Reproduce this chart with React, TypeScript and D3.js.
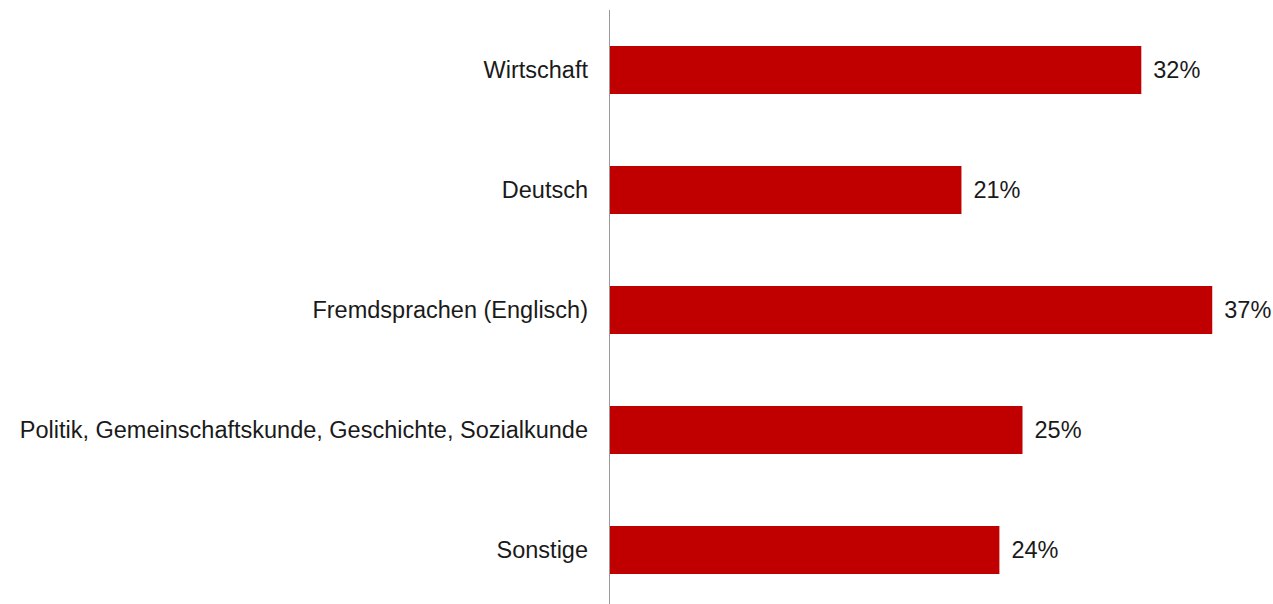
import * as d3 from "d3";
import { useEffect, useRef } from "react";

const categories = [
  "Wirtschaft",
  "Deutsch",
  "Fremdsprachen (Englisch)",
  "Politik, Gemeinschaftskunde, Geschichte, Sozialkunde",
  "Sonstige",
];
const values = [32.2, 21.3, 36.5, 25.0, 23.6];
const valueLabels = ["32%", "21%", "37%", "25%", "24%"];

const width = 1273;
const height = 604;
const margin = { top: 10, left: 610 };

const App = () => {
  const ref = useRef<SVGSVGElement | null>(null);

  useEffect(() => {
    if (!ref.current) return;
    const svg = d3.select(ref.current);
    svg.selectAll("*").remove();

    const x = d3.scaleLinear().domain([0, 40]).range([margin.left, margin.left + 660]);
    const y = d3
      .scaleBand()
      .domain(categories)
      .range([margin.top, margin.top + 600])
      .paddingInner(0.6)
      .paddingOuter(0.3);

    svg
      .append("g")
      .selectAll("rect")
      .data(categories)
      .enter()
      .append("rect")
      .attr("x", x(0))
      .attr("y", (d) => y(d)!)
      .attr("width", (d, i) => x(values[i]) - x(0))
      .attr("height", y.bandwidth())
      .style("fill", "#C00000");

    svg
      .append("line")
      .attr("x1", x(0) - 0.5)
      .attr("x2", x(0) - 0.5)
      .attr("y1", margin.top)
      .attr("y2", height)
      .style("stroke", "#999")
      .style("stroke-width", 1);

    svg
      .append("g")
      .selectAll("text")
      .data(categories)
      .enter()
      .append("text")
      .attr("x", x(0) - 22)
      .attr("y", (d) => y(d)! + y.bandwidth() / 2)
      .attr("dy", "0.35em")
      .attr("text-anchor", "end")
      .style("font-family", "'Liberation Sans', Arial, sans-serif")
      .style("font-size", "23.5px")
      .style("fill", "#1a1a1a")
      .text((d) => d);

    svg
      .append("g")
      .selectAll("text")
      .data(categories)
      .enter()
      .append("text")
      .attr("x", (d, i) => x(values[i]) + 12)
      .attr("y", (d) => y(d)! + y.bandwidth() / 2)
      .attr("dy", "0.35em")
      .style("font-family", "'Liberation Sans', Arial, sans-serif")
      .style("font-size", "23.5px")
      .style("fill", "#1a1a1a")
      .text((d, i) => valueLabels[i]);
  }, []);

  return (
    <svg
      ref={ref}
      width={width}
      height={height}
      style={{ position: "absolute", left: 0, top: 0, background: "#fff" }}
    />
  );
};

export default App;
